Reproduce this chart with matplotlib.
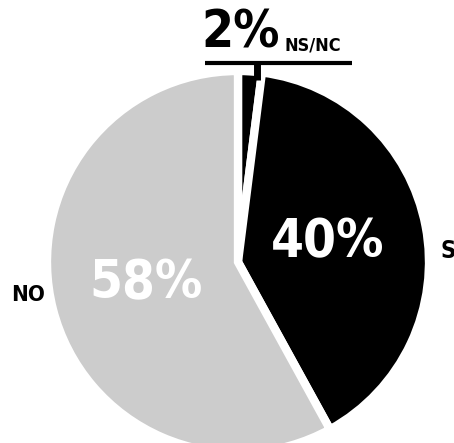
import matplotlib
matplotlib.use("Agg")
import matplotlib.pyplot as plt

# survey answers, drawn clockwise from 12 o'clock
labels = ["NS/NC", "SI", "NO"]
values = [2, 40, 58]
colors = ["#000000", "#000000", "#cccccc"]

plt.rcParams["font.family"] = ["DejaVu Sans"]
txt = dict(fontweight="bold", fontstretch="condensed")

W, H = 454, 443
fig = plt.figure(figsize=(W / 100, H / 100), dpi=100)
ax = fig.add_axes([0, 0, 1, 1])

ax.pie(values, colors=colors, startangle=90, counterclock=False,
       center=(238, H - 262), radius=191,
       wedgeprops=dict(edgecolor="white", linewidth=6))
ax.set_xlim(0, W)
ax.set_ylim(0, H)
ax.set_aspect("equal")
ax.axis("off")

pct = [f"{v}%" for v in values]

# small slice: value above a bracket line
ax.text(241, H - 33, pct[0], ha="center", va="center", fontsize=37,
        color="black", **txt)
ax.text(284, H - 45, labels[0], ha="left", va="center", fontsize=13,
        color="black", **txt)
ax.plot([205, 352], [H - 63, H - 63], color="black", lw=3, solid_capstyle="butt")
ax.plot([257, 257], [H - 63, H - 80], color="black", lw=5, solid_capstyle="butt")

ax.text(328, H - 242, pct[1], ha="center", va="center", fontsize=38,
        color="white", **txt)
ax.text(440, H - 251, labels[1], ha="left", va="center", fontsize=17,
        color="black", **txt)

ax.text(146, H - 283, pct[2], ha="center", va="center", fontsize=38,
        color="white", **txt)
ax.text(28, H - 295, labels[2], ha="center", va="center", fontsize=16,
        color="black", **txt)

fig.savefig("out.png", dpi=100)
